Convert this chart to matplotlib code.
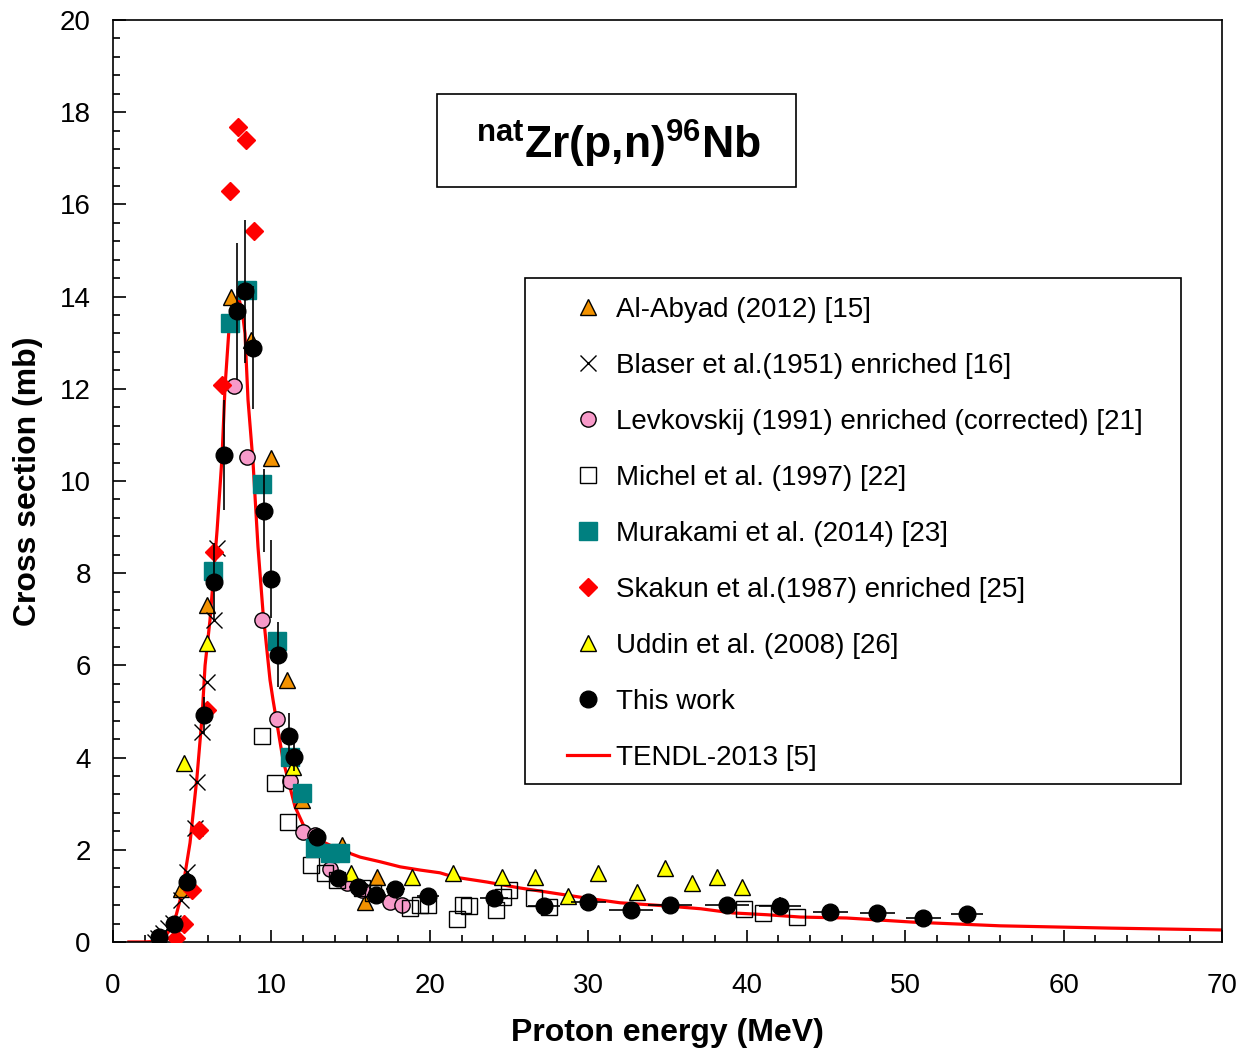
import numpy as np
import matplotlib
matplotlib.use("Agg")
from matplotlib import pyplot as plt
from matplotlib.patches import Rectangle
from matplotlib.lines import Line2D

plt.rcParams['font.family'] = ['Liberation Sans', 'DejaVu Sans']
plt.rcParams['mathtext.fontset'] = 'custom'
plt.rcParams['mathtext.rm'] = 'Liberation Sans:bold'
plt.rcParams['mathtext.bf'] = 'Liberation Sans:bold'

# Al-Abyad (2012)
abyad_E = [4.29, 5.93, 7.45, 8.71, 9.97, 10.98, 11.93, 14.46, 15.9, 16.67]
abyad_s = [1.15, 7.31, 13.99, 13.06, 10.50, 5.68, 3.08, 2.10, 0.87, 1.41]

# Blaser et al. (1951)
blaser_E = [2.65, 2.84, 3.16, 3.47, 3.79, 4.29, 4.67, 5.18, 5.30, 5.62, 5.93, 6.38, 6.57]
blaser_s = [0.00, 0.09, 0.20, 0.30, 0.41, 0.91, 1.52, 2.47, 3.47, 4.56, 5.64, 6.98, 8.55]

# Levkovskij (1991)
levk_E = [7.64, 8.46, 9.41, 10.35, 11.17, 12.0, 12.75, 13.7, 14.77, 15.72, 17.49, 18.24]
levk_s = [12.06, 10.52, 6.98, 4.84, 3.49, 2.39, 2.32, 1.58, 1.28, 1.13, 0.87, 0.80]

# Michel et al. (1997)
michel_E = [9.41, 10.23, 11.05, 12.5, 13.38, 14.14, 15.72, 16.41, 18.75, 19.38, 19.89,
            21.7, 22.1, 22.5, 24.2, 24.6, 25.0, 26.6, 27.5, 39.8, 41.0, 43.2]
michel_s = [4.47, 3.45, 2.60, 1.67, 1.50, 1.34, 1.17, 1.06, 0.74, 0.80, 0.80,
            0.50, 0.80, 0.78, 0.69, 0.98, 1.13, 0.95, 0.76, 0.72, 0.63, 0.54]

# Murakami et al. (2014)
mura_E = [6.31, 7.39, 8.46, 9.41, 10.35, 11.17, 11.93, 12.75, 13.7, 14.33]
mura_s = [8.05, 13.43, 14.14, 9.93, 6.53, 4.01, 3.23, 2.04, 1.93, 1.93]

# Skakun et al. (1987)
skakun_E = [3.98, 4.48, 4.99, 5.43, 5.93, 6.38, 6.88, 7.39, 7.89, 8.40, 8.90]
skakun_s = [0.09, 0.39, 1.13, 2.43, 5.03, 8.46, 12.08, 16.29, 17.68, 17.40, 15.42]

# Uddin et al. (2008)
uddin_E = [4.45, 5.93, 11.36, 15.02, 18.88, 21.47, 24.56, 26.64, 28.72, 30.62,
           33.08, 34.85, 36.55, 38.13, 39.7]
uddin_s = [3.88, 6.49, 3.80, 1.50, 1.41, 1.50, 1.41, 1.41, 1.00, 1.50,
           1.08, 1.60, 1.28, 1.41, 1.19]

# this work, with energy and cross-section uncertainties
work_E = [2.9, 3.85, 4.67, 5.74, 6.38, 7.01, 7.83, 8.33, 8.84, 9.53, 9.97, 10.42,
          11.1, 11.43, 12.88, 14.2, 15.47, 16.6, 17.8, 19.89, 24.05, 27.2, 30.0,
          32.7, 35.16, 38.76, 42.1, 45.26, 48.23, 51.14, 53.91]
work_s = [0.10, 0.39, 1.30, 4.92, 7.81, 10.56, 13.69, 14.12, 12.89, 9.35, 7.87, 6.23,
          4.47, 4.01, 2.28, 1.39, 1.19, 1.02, 1.15, 1.00, 0.95, 0.78, 0.87,
          0.69, 0.80, 0.80, 0.78, 0.65, 0.63, 0.52, 0.61]
work_dE = [0.25, 0.3, 0.35, 0.4, 0.45, 0.4, 0.4, 0.4, 0.45, 0.4, 0.4, 0.4,
           0.45, 0.45, 0.5, 0.5, 0.6, 0.6, 0.6, 0.7, 0.9, 1.0, 1.1,
           1.4, 1.4, 1.4, 1.3, 1.1, 1.1, 1.1, 1.0]
work_ds = [0.02, 0.05, 0.15, 0.4, 0.85, 1.2, 1.47, 1.55, 1.33, 0.9, 0.85, 0.7,
           0.5, 0.3, 0.2, 0.12, 0.1, 0.1, 0.1, 0.1, 0.1, 0.12, 0.1,
           0.1, 0.12, 0.1, 0.2, 0.1, 0.08, 0.06, 0.08]

# TENDL-2013
tendl_E = [1.0, 2.0, 2.6, 3.0, 3.4, 3.72, 4.0, 4.35, 4.86, 5.3, 5.62, 5.81, 6.12, 6.57,
           6.88, 7.07, 7.3, 7.6, 7.9, 8.15, 8.33, 8.52, 8.84, 9.15, 9.47, 9.91, 10.1,
           10.73, 11.49, 12.25, 13.38, 14.33, 15.6, 16.86, 18.12, 19.38, 20.64, 21.5,
           23.6, 25.7, 27.8, 29.9, 32.0, 35.0, 37.1, 39.1, 41.3, 43.4, 46.3, 50.5,
           56.0, 63.0, 70.0]
tendl_s = [0.0, 0.0, 0.01, 0.06, 0.17, 0.33, 0.6, 1.06, 2.15, 3.58, 4.88, 6.0, 6.98, 8.94,
           10.52, 12.04, 13.2, 13.85, 14.0, 13.7, 13.2, 11.76, 10.39, 8.57, 7.14, 5.68, 5.25,
           3.95, 2.93, 2.36, 2.15, 2.0, 1.84, 1.74, 1.63, 1.56, 1.50, 1.41,
           1.30, 1.17, 1.06, 0.95, 0.85, 0.78, 0.72, 0.63, 0.59, 0.54, 0.52, 0.43,
           0.35, 0.30, 0.26]

labels = ['Al-Abyad (2012) [15]',
          'Blaser et al.(1951) enriched [16]',
          'Levkovskij (1991) enriched (corrected) [21]',
          'Michel et al. (1997) [22]',
          'Murakami et al. (2014) [23]',
          'Skakun et al.(1987) enriched [25]',
          'Uddin et al. (2008) [26]',
          'This work',
          'TENDL-2013 [5]']

# marker styles per series (same order as labels)
styles = [dict(marker='^', ms=12, mfc='#f39200', mec='black', mew=1.0),
          dict(marker='x', ms=12, color='black', mew=1.0),
          dict(marker='o', ms=11, mfc='#f79ac9', mec='black', mew=1.0),
          dict(marker='s', ms=11, mfc='none', mec='black', mew=1.0),
          dict(marker='s', ms=13, mfc='#008080', mec='#008080'),
          dict(marker='D', ms=9, mfc='#ff0000', mec='#ff0000'),
          dict(marker='^', ms=11, mfc='#ffff00', mec='black', mew=1.0),
          dict(marker='o', ms=12, mfc='black', mec='black')]

fig = plt.figure(figsize=(12.53, 10.52), dpi=100)
ax = fig.add_axes([0.0902, 0.1046, 0.8851, 0.8764])

ax.plot(tendl_E, tendl_s, color='#ff0000', lw=2.3, zorder=2)

series = [(abyad_E, abyad_s), (blaser_E, blaser_s), (levk_E, levk_s),
          (michel_E, michel_s), (mura_E, mura_s), (skakun_E, skakun_s),
          (uddin_E, uddin_s)]
for (e, s), st in zip(series, styles[:7]):
    ax.plot(e, s, ls='none', zorder=3, **st)

ax.errorbar(work_E, work_s, xerr=work_dE, yerr=work_ds, fmt='o', ms=12, color='black',
            ecolor='black', elinewidth=1.2, capsize=0, zorder=4)

ax.set_xlim(0, 70)
ax.set_ylim(0, 20)
ax.set_xticks(np.arange(0, 71, 10))
ax.set_yticks(np.arange(0, 21, 2))
ax.set_xticks(np.arange(0, 71, 2), minor=True)
ax.set_yticks(np.arange(0, 20.01, 0.4), minor=True)
ax.tick_params(which='both', direction='in', top=False, right=False, labelsize=20, width=1.2)
ax.tick_params(which='major', length=9)
ax.tick_params(which='minor', length=5)
ax.tick_params(axis='x', which='major', pad=22)
ax.tick_params(axis='y', which='major', pad=16)
for sp in ax.spines.values():
    sp.set_linewidth(1.2)

ax.set_xlabel('Proton energy (MeV)', fontsize=23, fontweight='bold', labelpad=14)
ax.set_ylabel('Cross section (mb)', fontsize=23, fontweight='bold', labelpad=12)

# reaction label box
ax.add_patch(Rectangle((0.2918, 0.8189), 0.3237, 0.1008, transform=ax.transAxes,
                       fill=False, edgecolor='black', lw=1.2, zorder=5))
ax.text(0.4557, 0.8655, r'$^{\mathrm{nat}}$Zr(p,n)$^{\mathrm{96}}$Nb', transform=ax.transAxes,
        ha='center', va='center', fontsize=32, fontweight='bold', zorder=6)

# legend: frame drawn separately, entries placed inside
ax.add_patch(Rectangle((0.3715, 0.1714), 0.5915, 0.5488, transform=ax.transAxes,
                       facecolor='white', edgecolor='black', lw=1.2, zorder=5))
handles = [Line2D([], [], ls='none', **st) for st in styles]
handles.append(Line2D([], [], color='#ff0000', lw=2.3))
leg = ax.legend(handles, labels, loc='upper left', bbox_to_anchor=(0.409, 0.6995),
                fontsize=20, labelspacing=1.08, handlelength=1.51, handletextpad=0.25,
                borderpad=0, borderaxespad=0, frameon=False)
leg.set_zorder(6)

fig.savefig('out.png', dpi=100)
